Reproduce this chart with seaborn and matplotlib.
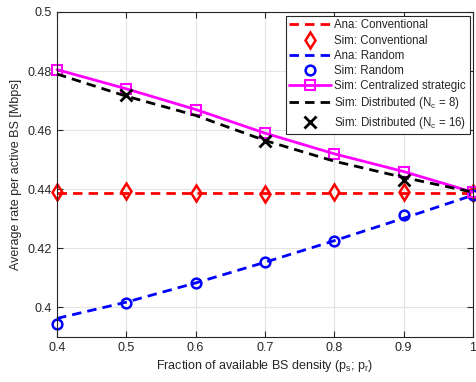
import matplotlib
matplotlib.use("Agg")
import matplotlib.pyplot as plt
import seaborn as sns
import pandas as pd
import numpy as np

x = [0.4, 0.5, 0.6, 0.7, 0.8, 0.9, 1.0]
ana_conv = [0.4387, 0.4387, 0.4387, 0.4387, 0.4387, 0.4387, 0.4387]
sim_conv = [0.4390, 0.4394, 0.4386, 0.4385, 0.4391, 0.4390, 0.4386]
ana_rand = [0.3963, 0.4018, 0.4083, 0.4153, 0.4226, 0.4302, 0.4380]
sim_rand = [0.3945, 0.4016, 0.4082, 0.4154, 0.4226, 0.4313, 0.4380]
sim_cent = [0.4805, 0.4740, 0.4670, 0.4590, 0.4520, 0.4460, 0.4390]
sim_dist8 = [0.4790, 0.4715, 0.4650, 0.4565, 0.4495, 0.4440, 0.4390]
x16 = [0.5, 0.7, 0.9]
sim_dist16 = [0.4720, 0.4565, 0.4430]

sns.set_style("whitegrid")
plt.rcParams['font.family'] = ['Liberation Sans', 'DejaVu Sans']
plt.rcParams['mathtext.fontset'] = 'custom'
plt.rcParams['mathtext.rm'] = 'Liberation Sans'
plt.rcParams['mathtext.it'] = 'Liberation Sans'

fig = plt.figure(figsize=(4.76, 3.82), dpi=100)
ax = fig.add_axes([57/476, 1-337/382, (473-57)/476, (337-12)/382])

dash = (3.4, 2.2)
sns.lineplot(x=x, y=ana_conv, ax=ax, color='#ff0000', lw=2,
             label='Ana: Conventional')
ax.lines[-1].set_dashes(dash)
sns.lineplot(x=x, y=sim_conv, ax=ax, color='#ff0000', lw=0, marker='d', markersize=8,
             markerfacecolor='none', markeredgecolor='#ff0000', markeredgewidth=1.8,
             label='Sim: Conventional')
sns.lineplot(x=x, y=ana_rand, ax=ax, color='#0000ff', lw=2,
             label='Ana: Random')
ax.lines[-1].set_dashes(dash)
sns.lineplot(x=x, y=sim_rand, ax=ax, color='#0000ff', lw=0, marker='o', markersize=7,
             markerfacecolor='none', markeredgecolor='#0000ff', markeredgewidth=1.8,
             label='Sim: Random')
sns.lineplot(x=x, y=sim_cent, ax=ax, color='#ff00ff', lw=2, marker='s', markersize=7,
             markerfacecolor='none', markeredgecolor='#ff00ff', markeredgewidth=1.5,
             label='Sim: Centralized strategic')
sns.lineplot(x=x, y=sim_dist8, ax=ax, color='black', lw=2,
             label=r'Sim: Distributed (N$_\mathregular{c}$ = 8)')
ax.lines[-1].set_dashes(dash)
sns.lineplot(x=x16, y=sim_dist16, ax=ax, color='black', lw=0, marker='x', markersize=8,
             markeredgecolor='black', markeredgewidth=2,
             label=r'Sim: Distributed (N$_\mathregular{c}$ = 16)')
for ln in ax.lines:
    ln.set_clip_on(False)

ax.set_xlim(0.4, 1.0)
ax.set_ylim(0.39, 0.5)
ax.set_xticks([0.4, 0.5, 0.6, 0.7, 0.8, 0.9, 1.0])
ax.set_xticklabels(['0.4', '0.5', '0.6', '0.7', '0.8', '0.9', '1'])
ax.set_yticks([0.40, 0.42, 0.44, 0.46, 0.48, 0.50])
ax.set_yticklabels(['0.4', '0.42', '0.44', '0.46', '0.48', '0.5'])
ax.grid(True, color='#e3e3e3', lw=0.8)
for s in ax.spines.values():
    s.set_color('#262626')
    s.set_linewidth(0.8)
ax.tick_params(direction='in', length=4, width=0.8, colors='#262626', labelsize=9,
               top=True, right=True, bottom=True, left=True, labelcolor='#262626')
ax.set_xlabel(r'Fraction of available BS density (p$_\mathregular{s}$; p$_\mathregular{r}$)',
              fontsize=9, color='#262626', labelpad=3)
ax.set_ylabel('Average rate per active BS [Mbps]', fontsize=9, color='#262626', labelpad=4)

leg = ax.legend(loc='upper right', bbox_to_anchor=(0.9925, 0.988), fontsize=8.3,
                frameon=True, fancybox=False, edgecolor='#262626', framealpha=1,
                handlelength=3.6, handletextpad=0.3, borderpad=0.3, labelspacing=0.28,
                borderaxespad=0.0)
leg.get_frame().set_linewidth(0.8)
leg.set_zorder(10)

fig.savefig('out.png', dpi=100)
